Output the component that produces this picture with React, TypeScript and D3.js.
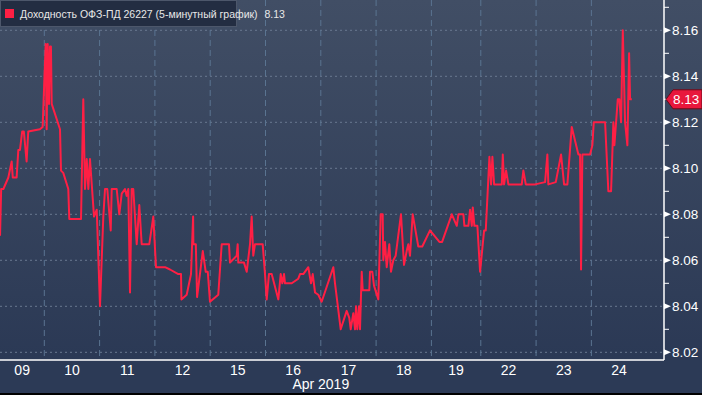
import React from 'react';
import * as d3 from 'd3';

const days = ['09', '10', '11', '12', '15', '16', '17', '18', '19', '22', '23', '24'];
// relative trading-session length of each day (the 19th is shorter)
const sessionLength = [1, 1, 1, 1, 1, 1, 1, 1, 0.893, 1, 1, 1];
const yTicks = [8.02, 8.04, 8.06, 8.08, 8.1, 8.12, 8.14, 8.16];
const yMinorTicks = [8.03, 8.05, 8.07, 8.09, 8.11, 8.13, 8.15, 8.17];
const monthLabel = 'Apr 2019';
const legendLabel = 'Доходность ОФЗ-ПД 26227 (5-минутный график)';
const lastValue = 8.13;

// [trading-day time (day index + fraction of session), yield]
const series: [number, number][] = [
  [0.16, 8.071], [0.2, 8.071], [0.22, 8.091], [0.26, 8.091], [0.35, 8.096], [0.41, 8.103], [0.43, 8.096],
  [0.5, 8.096], [0.53, 8.108], [0.56, 8.108], [0.6, 8.116], [0.63, 8.116], [0.68, 8.103], [0.71, 8.116],
  [0.92, 8.117], [0.97, 8.118], [1.025, 8.154], [1.043, 8.117], [1.061, 8.154], [1.085, 8.128], [1.103, 8.153],
  [1.12, 8.153], [1.134, 8.128], [1.284, 8.117], [1.302, 8.099], [1.343, 8.098], [1.434, 8.091], [1.452, 8.078],
  [1.664, 8.078], [1.705, 8.13], [1.736, 8.091], [1.767, 8.104], [1.796, 8.091], [1.826, 8.104], [1.899, 8.079],
  [1.948, 8.082], [2.007, 8.04], [2.067, 8.079], [2.098, 8.091], [2.139, 8.091], [2.201, 8.073], [2.219, 8.091],
  [2.309, 8.091], [2.356, 8.08], [2.4, 8.089], [2.459, 8.091], [2.49, 8.088], [2.519, 8.091], [2.55, 8.046],
  [2.58, 8.091], [2.609, 8.091], [2.671, 8.067], [2.718, 8.084], [2.761, 8.067], [2.899, 8.067], [2.971, 8.079],
  [3.02, 8.057], [3.183, 8.057], [3.273, 8.056],
  [3.423, 8.054], [3.472, 8.054], [3.48, 8.043], [3.575, 8.045], [3.653, 8.054], [3.691, 8.079], [3.696, 8.067],
  [3.74, 8.067], [3.763, 8.044], [3.866, 8.064], [3.919, 8.055], [3.956, 8.055], [3.996, 8.042], [4.146, 8.045],
  [4.208, 8.067], [4.34, 8.067], [4.358, 8.059], [4.479, 8.062], [4.497, 8.067], [4.508, 8.059], [4.611, 8.059],
  [4.66, 8.055], [4.72, 8.067], [4.75, 8.079], [4.779, 8.062], [4.81, 8.067], [4.949, 8.067], [4.991, 8.054],
  [5.022, 8.043], [5.063, 8.054], [5.112, 8.054], [5.232, 8.043], [5.275, 8.054], [5.304, 8.05], [5.335, 8.054],
  [5.353, 8.05], [5.474, 8.05], [5.593, 8.052], [5.624, 8.054], [5.684, 8.054], [5.774, 8.057], [5.823, 8.05],
  [5.854, 8.054], [5.896, 8.046], [5.955, 8.045], [6.016, 8.042], [6.226, 8.057],
  [6.257, 8.05], [6.36, 8.03], [6.468, 8.038], [6.515, 8.035], [6.541, 8.03], [6.588, 8.037], [6.619, 8.03],
  [6.637, 8.04], [6.66, 8.03], [6.691, 8.04], [6.709, 8.03], [6.74, 8.055], [6.758, 8.047], [6.877, 8.047],
  [6.89, 8.055], [6.932, 8.055], [6.962, 8.049], [7.04, 8.043], [7.083, 8.08], [7.119, 8.08], [7.13, 8.06],
  [7.161, 8.068], [7.192, 8.057], [7.239, 8.067], [7.269, 8.055], [7.311, 8.06], [7.354, 8.062], [7.45, 8.08],
  [7.505, 8.058], [7.553, 8.064], [7.582, 8.067], [7.613, 8.062], [7.662, 8.08], [7.763, 8.066], [7.835, 8.066],
  [7.975, 8.073], [8.162, 8.068], [8.217, 8.068], [8.413, 8.08], [8.514, 8.075], [8.547, 8.08], [8.648, 8.08],
  [8.668, 8.075], [8.749, 8.075], [8.783, 8.082], [8.818, 8.075], [8.838, 8.083], [8.87, 8.075], [8.931, 8.075],
  [8.986, 8.055], [9.06, 8.073], [9.09, 8.073], [9.156, 8.105], [9.186, 8.093], [9.21, 8.105], [9.241, 8.093],
  [9.349, 8.093],
  [9.38, 8.093], [9.398, 8.106], [9.421, 8.093], [9.458, 8.099], [9.499, 8.093], [9.741, 8.093], [9.77, 8.099],
  [9.814, 8.093], [9.982, 8.093], [10.163, 8.094], [10.204, 8.106], [10.222, 8.093], [10.356, 8.094],
  [10.452, 8.106], [10.506, 8.093], [10.566, 8.093], [10.645, 8.118], [10.765, 8.106], [10.795, 8.106],
  [10.813, 8.056], [10.837, 8.106], [10.976, 8.106], [11.018, 8.11], [11.043, 8.12], [11.248, 8.12],
  [11.307, 8.09], [11.356, 8.09], [11.398, 8.12], [11.416, 8.11], [11.477, 8.13], [11.506, 8.13], [11.537, 8.12],
  [11.568, 8.16], [11.609, 8.12], [11.651, 8.11], [11.682, 8.15], [11.7, 8.13], [11.731, 8.13],
];

const W = 702;
const H = 395;
const plotRight = 664;
const plotBottom = 360;
const dayUnit = 55.3;
const dayStart = -11;

export default function App() {
  const cum = [0];
  sessionLength.forEach((s) => cum.push(cum[cum.length - 1] + s));
  const x = d3
    .scaleLinear()
    .domain(d3.range(days.length + 1))
    .range(cum.map((c) => dayStart + c * dayUnit));
  const y = d3.scaleLinear().domain([8.02, 8.16]).range([352.3, 30.3]);

  const line = d3
    .line<[number, number]>()
    .x((d) => x(d[0]))
    .y((d) => y(d[1]))
    .curve(d3.curveLinear);

  const ly = y(lastValue);

  return (
    <svg
      width={W}
      height={H}
      style={{ position: 'absolute', left: 0, top: 0, display: 'block' }}
      fontFamily="'Liberation Sans', Arial, sans-serif"
    >
      <defs>
        <linearGradient id="bg" x1="0" y1="0" x2="0" y2="1">
          <stop offset="0" stopColor="#414e65" />
          <stop offset="1" stopColor="#2b3955" />
        </linearGradient>
        <clipPath id="plotClip">
          <rect x={0} y={0} width={plotRight} height={plotBottom} />
        </clipPath>
      </defs>
      <rect x={0} y={0} width={W} height={H} fill="#2c3a56" />
      <rect x={0} y={0} width={W} height={plotBottom} fill="url(#bg)" />

      {/* horizontal grid */}
      {yTicks.map((t) => (
        <line
          key={'h' + t}
          x1={0}
          x2={plotRight}
          y1={y(t)}
          y2={y(t)}
          stroke="#6a7890"
          strokeWidth={1}
          strokeDasharray="2,3"
        />
      ))}
      {/* vertical grid at day boundaries */}
      {d3.range(1, days.length).map((i) => (
        <line
          key={'v' + i}
          x1={x(i)}
          x2={x(i)}
          y1={0}
          y2={plotBottom}
          stroke="#5a7491"
          strokeWidth={1}
          strokeDasharray="6,4"
        />
      ))}

      <g clipPath="url(#plotClip)">
        <path d={line(series) || ''} fill="none" stroke="#ff1f44" strokeWidth={2} strokeLinejoin="round" />
      </g>

      {/* axes */}
      <line x1={0} x2={plotRight} y1={plotBottom} y2={plotBottom} stroke="#ffffff" strokeWidth={1.5} />
      <line x1={plotRight} x2={plotRight} y1={0} y2={plotBottom} stroke="#ffffff" strokeWidth={1.5} />

      {yMinorTicks.map((t) => (
        <line key={'m' + t} x1={plotRight} x2={plotRight + 5} y1={y(t)} y2={y(t)} stroke="#ffffff" strokeWidth={1} />
      ))}
      {yTicks.map((t) => (
        <g key={'t' + t}>
          <path
            d={`M${plotRight},${y(t) - 3}L${plotRight + 7},${y(t)}L${plotRight},${y(t) + 3}Z`}
            fill="#ffffff"
          />
          <text x={plotRight + 8} y={y(t)} dy="0.36em" fill="#ffffff" fontSize={13.5}>
            {t.toFixed(2)}
          </text>
        </g>
      ))}

      {/* last value marker */}
      <path
        d={`M${plotRight + 2},${ly}L${plotRight + 9},${ly - 9.5}L${W},${ly - 9.5}L${W},${ly + 9.5}L${plotRight + 9},${ly + 9.5}Z`}
        fill="#e8173c"
        stroke="#6b0a18"
        strokeWidth={1}
      />
      <text x={plotRight + 9} y={ly} dy="0.36em" fill="#ffffff" fontSize={13.5}>
        {lastValue.toFixed(2)}
      </text>

      {/* x labels */}
      {days.map((d, i) => {
        const a = Math.max(0, x(i));
        const b = x(i + 1);
        return (
          <text
            key={'x' + d}
            x={(a + b) / 2}
            y={375}
            textAnchor="middle"
            fill="#ffffff"
            fontSize={14}
            fontFamily="'Liberation Sans Narrow', 'Liberation Sans', Arial, sans-serif"
          >
            {d}
          </text>
        );
      })}
      <text
        x={x(6)}
        y={389}
        textAnchor="middle"
        fill="#ffffff"
        fontSize={14}
        fontFamily="'Liberation Sans Narrow', 'Liberation Sans', Arial, sans-serif"
      >
        {monthLabel}
      </text>

      {/* legend */}
      <rect x={0.5} y={0.5} width={236} height={26} fill="#232d42" stroke="#4d576b" strokeWidth={1} />
      <rect x={5} y={9} width={9} height={9} fill="#ff1f44" />
      <text x={20} y={18} fill="#e8e8e8" fontSize={10.5}>
        {legendLabel}
        {'  '}
        <tspan dx={4}>{lastValue.toFixed(2)}</tspan>
      </text>

      <rect x={0} y={H - 2} width={W} height={2} fill="#000000" />
    </svg>
  );
}
